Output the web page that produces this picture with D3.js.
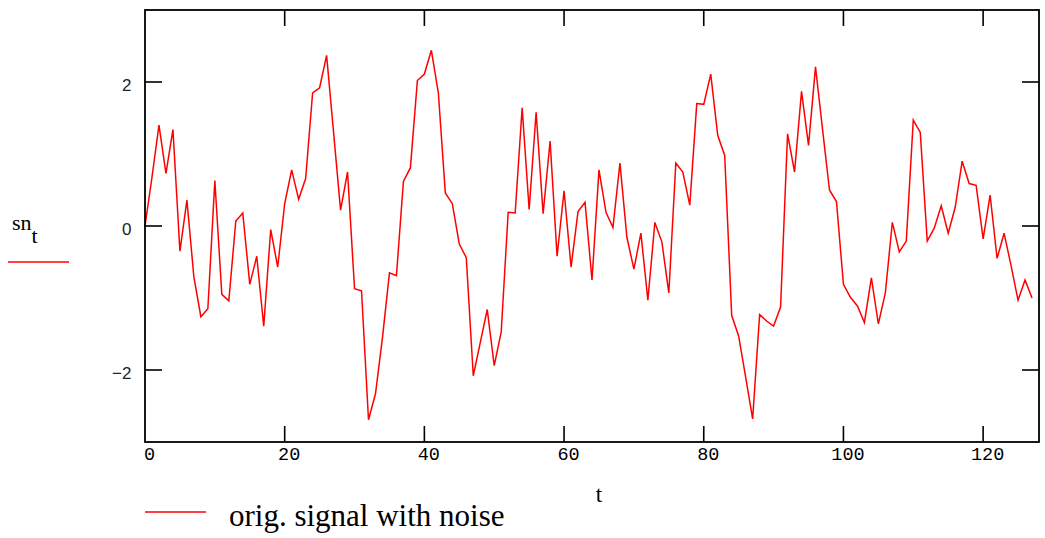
<!DOCTYPE html>
<html><head><meta charset="utf-8">
<script src="https://cdn.jsdelivr.net/npm/d3@7"></script>
<style>body{margin:0;background:#fff}svg{display:block}</style>
</head><body>
<script>
const tValues = d3.range(0, 128);
const snValues = [
 0.00, 0.68, 1.40, 0.73, 1.34, -0.35, 0.36, -0.71, -1.26, -1.15,
 0.63, -0.95, -1.04, 0.07, 0.18, -0.81, -0.42, -1.39, -0.05, -0.57,
 0.31, 0.78, 0.37, 0.66, 1.85, 1.92, 2.37, 1.30, 0.22, 0.75,
 -0.87, -0.90, -2.69, -2.33, -1.55, -0.65, -0.69, 0.62, 0.81, 2.02,
 2.11, 2.44, 1.85, 0.46, 0.31, -0.25, -0.44, -2.08, -1.62, -1.16,
 -1.94, -1.47, 0.19, 0.18, 1.64, 0.23, 1.58, 0.17, 1.18, -0.42,
 0.49, -0.57, 0.20, 0.33, -0.75, 0.78, 0.19, -0.02, 0.875, -0.16,
 -0.60, -0.10, -1.03, 0.05, -0.22, -0.93, 0.875, 0.75, 0.29, 1.70,
 1.69, 2.11, 1.26, 0.98, -1.24, -1.53, -2.10, -2.68, -1.23, -1.32,
 -1.39, -1.125, 1.28, 0.75, 1.87, 1.12, 2.21, 1.35, 0.50, 0.34,
 -0.81, -0.99, -1.11, -1.34, -0.72, -1.36, -0.93, 0.05, -0.36, -0.21,
 1.47, 1.30, -0.21, -0.03, 0.28, -0.10, 0.26, 0.90, 0.59, 0.565,
 -0.18, 0.43, -0.45, -0.10, -0.55, -1.03, -0.75, -1.00
];
const xTicks = [0, 20, 40, 60, 80, 100, 120];
const yTicks = [-2, 0, 2];
const xDomain = [0, 128];
const yDomain = [-3, 3];
const yAxisLabel = "sn";
const yAxisSub = "t";
const xAxisLabel = "t";
const legendLabel = "orig. signal with noise";

const W = 1045, H = 538;
const L = 145, R = 1039, T = 10, B = 442;
const svg = d3.select("body").append("svg").attr("width", W).attr("height", H);

const x = d3.scaleLinear().domain(xDomain).range([L, R]);
const y = d3.scaleLinear().domain(yDomain).range([B, T]);

const monoFont = "'Liberation Mono', monospace";
const sansFont = "'Liberation Sans', Arial, sans-serif";
const serif = "'Liberation Serif', 'Times New Roman', serif";

// data line
svg.append("path")
  .datum(tValues.map((t, i) => [t, snValues[i]]))
  .attr("fill", "none").attr("stroke", "#ff0000").attr("stroke-width", 1.5)
  .attr("stroke-linejoin", "miter")
  .attr("d", d3.line().x(d => x(d[0])).y(d => y(d[1])));

// frame
svg.append("rect").attr("x", L).attr("y", T).attr("width", R - L).attr("height", B - T)
  .attr("fill", "none").attr("stroke", "#000").attr("stroke-width", 1.8);

// x ticks (inward, bottom and top)
const xa = svg.append("g");
xTicks.forEach(v => {
  if (v !== 0) {
    xa.append("line").attr("x1", x(v)).attr("x2", x(v)).attr("y1", B).attr("y2", B - 16)
      .attr("stroke", "#000").attr("stroke-width", 1.6);
    xa.append("line").attr("x1", x(v)).attr("x2", x(v)).attr("y1", T).attr("y2", T + 16)
      .attr("stroke", "#000").attr("stroke-width", 1.6);
  }
  xa.append("text").attr("x", x(v) + 4.5).attr("y", B + 17.5)
    .attr("text-anchor", "middle").attr("font-family", monoFont).attr("font-size", 18.5)
    .attr("fill", "#000").text(v);
});

// y ticks (inward, left and right)
const ya = svg.append("g");
yTicks.forEach(v => {
  ya.append("line").attr("x1", L).attr("x2", L + 17).attr("y1", y(v)).attr("y2", y(v))
    .attr("stroke", "#000").attr("stroke-width", 1.6);
  ya.append("line").attr("x1", R).attr("x2", R - 17).attr("y1", y(v)).attr("y2", y(v))
    .attr("stroke", "#000").attr("stroke-width", 1.6);
  ya.append("text").attr("x", 131.5).attr("y", y(v) + 8.5)
    .attr("text-anchor", "end").attr("font-family", sansFont).attr("font-size", 17)
    .attr("fill", "#222").text(v < 0 ? "\u2212" + Math.abs(v) : v);
});

// y axis label sn_t with legend line
const yl = svg.append("text").attr("x", 12).attr("y", 230)
  .attr("font-family", serif).attr("font-size", 22).attr("fill", "#000");
yl.append("tspan").text(yAxisLabel);
yl.append("tspan").attr("dy", 13).text(yAxisSub);
svg.append("line").attr("x1", 8).attr("x2", 69).attr("y1", 262).attr("y2", 262)
  .attr("stroke", "#ff0000").attr("stroke-width", 1.5);

// x axis label
svg.append("text").attr("x", 599).attr("y", 502).attr("text-anchor", "middle")
  .attr("font-family", serif).attr("font-size", 23).attr("fill", "#000").text(xAxisLabel);

// bottom legend
svg.append("line").attr("x1", 145).attr("x2", 206).attr("y1", 512).attr("y2", 512)
  .attr("stroke", "#ff0000").attr("stroke-width", 1.5);
svg.append("text").attr("x", 229).attr("y", 526)
  .attr("font-family", serif).attr("font-size", 31).attr("fill", "#000").text(legendLabel);
</script>
</body></html>
